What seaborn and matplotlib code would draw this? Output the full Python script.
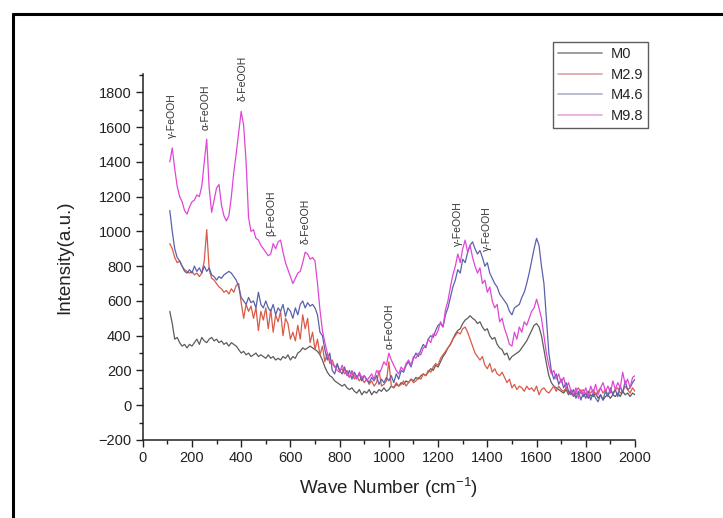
import numpy as np
import pandas as pd
import matplotlib
matplotlib.use("Agg")
import matplotlib.pyplot as plt
from matplotlib.lines import Line2D
from matplotlib.ticker import MultipleLocator
import seaborn as sns

# ---------------- data ----------------
wave_number = list(range(110, 2001, 10))

m0 = [540, 470, 380, 390, 360, 340, 350, 330, 350, 340,
      360, 380, 350, 390, 370, 360, 380, 390, 370, 380,
      360, 370, 350, 360, 340, 360, 350, 340, 320, 300,
      310, 290, 300, 280, 290, 300, 280, 290, 280, 270,
      290, 270, 280, 260, 270, 260, 280, 270, 290, 260,
      280, 270, 300, 310, 330, 320, 330, 340, 330, 320,
      310, 290, 260, 220, 190, 170, 160, 140, 130, 120,
      110, 120, 100, 90, 100, 80, 70, 90, 60, 80,
      70, 90, 60, 80, 70, 90, 80, 100, 80, 90,
      110, 100, 120, 110, 130, 120, 140, 130, 150, 140,
      160, 150, 170, 180, 170, 190, 210, 200, 230, 220,
      250, 280, 300, 330, 350, 380, 410, 430, 440, 470,
      490, 500, 515, 500, 490, 470, 480, 450, 430, 440,
      400, 380, 390, 350, 330, 320, 290, 300, 260, 280,
      290, 300, 310, 330, 350, 370, 400, 430, 460, 470,
      450, 400, 320, 240, 170, 130, 110, 100, 90, 80,
      70, 90, 60, 80, 50, 70, 60, 80, 50, 70,
      40, 60, 50, 70, 40, 60, 30, 50, 60, 40,
      60, 50, 70, 50, 80, 60, 70, 50, 70, 60]

m2_9 = [930, 900, 850, 820, 830, 800, 780, 770, 760, 770,
        750, 760, 740, 760, 830, 1010, 780, 730, 720, 700,
        680, 670, 650, 660, 640, 670, 650, 690, 700, 590,
        500, 580, 540, 570, 500, 560, 430, 540, 490, 560,
        440, 550, 420, 520, 480, 540, 400, 500, 470, 380,
        420, 370, 460, 380, 520, 440, 500, 360, 420, 320,
        380, 290, 340, 250, 300, 240, 260, 220, 230, 200,
        210, 180, 200, 160, 190, 150, 170, 140, 160, 130,
        150, 120, 140, 110, 130, 200, 110, 120, 140, 250,
        110, 100, 130, 110, 120, 140, 110, 130, 150, 130,
        140, 160, 150, 180, 170, 200, 190, 220, 240, 230,
        270, 290, 310, 330, 350, 380, 400, 420, 410, 440,
        450, 420, 380, 340, 300, 280, 260, 280, 230, 210,
        240, 190, 210, 180, 170, 190, 160, 130, 150, 100,
        120, 90, 110, 100, 80, 110, 90, 100, 80, 110,
        60, 90, 100, 80, 70, 90, 110, 80, 110, 90,
        80, 100, 70, 90, 60, 80, 100, 70, 90, 60,
        80, 70, 90, 60, 80, 100, 70, 90, 60, 80,
        70, 90, 100, 70, 80, 110, 90, 70, 100, 80]

m4_6 = [1120, 1000, 900, 850, 830, 800, 770, 760, 780, 760,
        800, 770, 790, 760, 800, 770, 790, 750, 740, 720,
        740, 730, 750, 760, 770, 760, 740, 720, 680, 620,
        600, 580, 620, 590, 600, 560, 650, 580, 560, 600,
        560, 540, 580, 520, 560, 540, 580, 510, 560, 540,
        500, 560, 520, 580, 600, 560, 590, 570, 580, 560,
        520, 420, 400, 320, 260, 300, 200, 180, 240, 200,
        180, 220, 170, 200, 150, 190, 160, 180, 140, 170,
        150, 130, 160, 140, 170, 120, 150, 130, 160, 140,
        170, 130, 180, 150, 200, 190, 230, 250, 220, 270,
        300, 280, 320, 350, 330, 380, 400, 390, 430, 460,
        470, 450, 520, 560, 620, 680, 720, 780, 760, 840,
        820, 880, 920, 940, 900, 870, 890, 850, 800, 820,
        760, 730, 700, 680, 640, 620, 600, 580, 540, 520,
        560, 570, 580, 620, 650, 700, 760, 830, 900, 960,
        920, 800, 700, 500, 300, 200, 150, 180, 120, 150,
        100, 130, 80, 60, 90, 40, 80, 30, 70, 40,
        80, 30, 70, 40, 20, 60, 30, 80, 50, 100,
        60, 90, 50, 110, 70, 140, 90, 100, 130, 150]

m9_8 = [1400, 1480, 1360, 1260, 1200, 1170, 1120, 1100, 1140, 1170,
        1180, 1210, 1200, 1260, 1400, 1530, 1250, 1110, 1180, 1250,
        1270, 1150, 1090, 1060, 1090, 1200, 1340, 1450, 1570, 1690,
        1610, 1400, 1080, 1000, 1010, 960, 950, 920, 900, 880,
        860, 870, 930, 900, 940, 950, 880, 820, 780, 740,
        700, 730, 760, 770, 820, 880, 870, 840, 850, 830,
        700, 550, 430, 360, 300, 260, 240, 220, 200, 190,
        230, 200, 180, 160, 200, 170, 150, 190, 160, 170,
        140, 160, 180, 150, 200, 180, 210, 250, 230, 300,
        260, 230, 200, 180, 220, 200, 240, 260, 230, 280,
        270, 300, 290, 330, 340, 380, 360, 410, 400, 430,
        480, 450, 550, 600, 680, 750, 800, 870, 820, 900,
        950, 880, 920, 850, 800, 760, 790, 700, 720, 650,
        680, 600, 560, 580, 480, 500, 440, 400, 350, 340,
        420, 380, 450, 420, 480, 460, 500, 540, 560, 610,
        560, 500, 400, 300, 230, 180, 200, 150, 180, 130,
        160, 100, 130, 80, 60, 100, 40, 90, 60, 100,
        50, 110, 70, 120, 60, 100, 130, 80, 110, 70,
        140, 90, 130, 100, 190, 120, 150, 100, 160, 170]

series_names = ["M0", "M2.9", "M4.6", "M9.8"]
series_values = [m0, m2_9, m4_6, m9_8]
series_colors = ["#5c5c5c", "#d95a48", "#5a62aa", "#e046d6"]
legend_colors = ["#8c8c8c", "#dba3a3", "#aab0c6", "#e6a6e0"]

ann_labels = ["γ-FeOOH", "α-FeOOH", "δ-FeOOH", "β-FeOOH", "δ-FeOOH",
              "α-FeOOH", "γ-FeOOH", "γ-FeOOH"]
ann_x = [118, 256, 405, 524, 663, 1005, 1282, 1398]
ann_y = [1535, 1581, 1748, 976, 930, 325, 918, 890]

# ---------------- frame ----------------
rows = []
for name, vals in zip(series_names, series_values):
    for x, y in zip(wave_number, vals):
        rows.append((name, x, y))
df = pd.DataFrame(rows, columns=["sample", "wave", "intensity"])

sns.set_theme(style="ticks")
plt.rcParams["font.family"] = ["Liberation Sans", "DejaVu Sans"]
plt.rcParams["mathtext.fontset"] = "custom"
plt.rcParams["mathtext.rm"] = "Liberation Sans"
plt.rcParams["mathtext.it"] = "Liberation Sans:italic"
plt.rcParams["mathtext.default"] = "regular"

fig = plt.figure(figsize=(7.23, 5.18), dpi=100)
ax = fig.add_axes([0.1974, 0.1506, 0.6809, 0.7064])

sns.lineplot(data=df, x="wave", y="intensity", hue="sample",
             palette=dict(zip(series_names, series_colors)),
             hue_order=series_names, linewidth=0.9, ax=ax,
             estimator=None, sort=False, legend=False)

ax.set_xlim(0, 2000)
ax.set_ylim(-200, 1905)
ax.xaxis.set_major_locator(MultipleLocator(200))
ax.xaxis.set_minor_locator(MultipleLocator(100))
ax.yaxis.set_major_locator(MultipleLocator(200))
ax.yaxis.set_minor_locator(MultipleLocator(100))
ax.set_yticks(list(range(-200, 1801, 200)))
ax.tick_params(which="major", direction="out", length=5, width=1.0,
               color="#222222", labelsize=10.5, labelcolor="#222222", pad=3)
ax.tick_params(which="minor", direction="out", length=3, width=1.0,
               color="#222222")
for s in ["top", "right"]:
    ax.spines[s].set_visible(False)
for s in ["left", "bottom"]:
    ax.spines[s].set_linewidth(1.1)
    ax.spines[s].set_color("#222222")

ax.set_xlabel("Wave Number (cm$^{-1}$)", fontsize=13.5, color="#222222", labelpad=8)
ax.set_ylabel("Intensity(a.u.)", fontsize=13.5, color="#222222", labelpad=18)

for lab, x, y in zip(ann_labels, ann_x, ann_y):
    ax.text(x, y, lab, rotation=90, ha="center", va="bottom",
            fontsize=7.5, color="#333333")

handles = [Line2D([0], [0], color=c, lw=1.2) for c in legend_colors]
leg = fig.legend(handles, series_names, loc="upper left",
                 bbox_to_anchor=(553 / 723, 1 - 42 / 518),
                 frameon=True, fancybox=False, fontsize=10.5,
                 handlelength=3.0, handletextpad=0.6, labelspacing=0.45,
                 borderpad=0.35, borderaxespad=0)
leg.get_frame().set_edgecolor("#333333")
leg.get_frame().set_linewidth(1.0)

# outer frame lines (top and left)
fig.add_artist(Line2D([13 / 723, 1.0], [1 - 14 / 518, 1 - 14 / 518],
                      transform=fig.transFigure, color="black", lw=2.2))
fig.add_artist(Line2D([13 / 723, 13 / 723], [0, 1 - 14 / 518],
                      transform=fig.transFigure, color="black", lw=2.2))

fig.savefig("out.png", dpi=100)
